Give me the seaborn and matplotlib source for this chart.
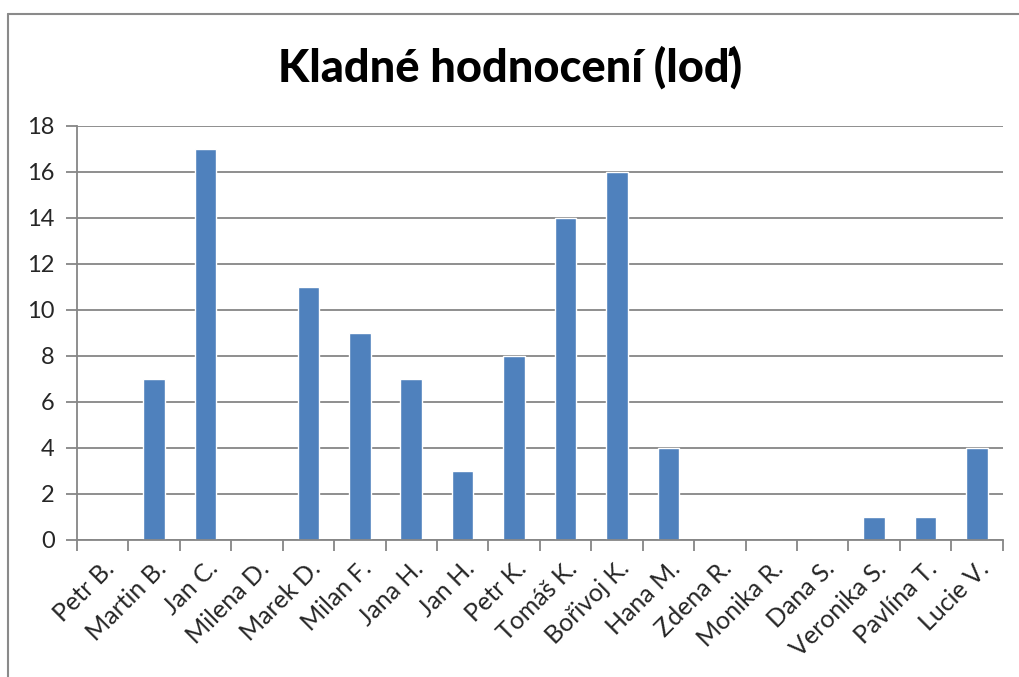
import matplotlib
matplotlib.use('Agg')
import matplotlib.pyplot as plt
import seaborn as sns
import pandas as pd
from matplotlib.lines import Line2D

names = ['Petr B.', 'Martin B.', 'Jan C.', 'Milena D.', 'Marek D.', 'Milan F.',
         'Jana H.', 'Jan H.', 'Petr K.', 'Tomáš K.', 'Bořivoj K.', 'Hana M.',
         'Zdena R.', 'Monika R.', 'Dana S.', 'Veronika S.', 'Pavlína T.', 'Lucie V.']
scores = [0, 7, 17, 0, 11, 9, 7, 3, 8, 14, 16, 4, 0, 0, 0, 1, 1, 4]
yticks = [0, 2, 4, 6, 8, 10, 12, 14, 16, 18]

df = pd.DataFrame({'name': names, 'score': scores})

sns.set_theme(style='white')
plt.rcParams['font.family'] = ['Lato', 'DejaVu Sans']

fig = plt.figure(figsize=(10.2, 6.77), dpi=100)
ax = fig.add_axes([0.0755, 0.2024, 0.9075, 0.6115])

sns.barplot(data=df, x='name', y='score', color='#4F81BD', saturation=1,
            width=0.42, ax=ax)

ax.set_ylim(0, 18)
ax.set_xlim(-0.5, len(names) - 0.5)
ax.set_yticks(yticks)
ax.set_yticklabels([str(v) for v in yticks], fontsize=17)
ax.yaxis.grid(True, color='#868686', linewidth=1.3)
ax.set_axisbelow(True)
ax.set_xlabel('')
ax.set_ylabel('')

# category ticks sit between the bars, like the spreadsheet chart
ax.set_xticks([i - 0.5 for i in range(len(names) + 1)], minor=False)
ax.set_xticklabels([''] * (len(names) + 1))
ax.set_xticks(range(len(names)), minor=True)
ax.set_xticklabels(names, minor=True, rotation=45, ha='right',
                   rotation_mode='anchor', fontsize=18)
ax.tick_params(axis='x', which='major', length=8, width=1.3, color='#868686',
               bottom=True, direction='out')
ax.tick_params(axis='x', which='minor', length=0, pad=12)
ax.tick_params(axis='y', length=8, width=1.3, color='#868686', left=True,
               direction='out', pad=8)

for s in ['top', 'right']:
    ax.spines[s].set_visible(False)
for s in ['left', 'bottom']:
    ax.spines[s].set_color('#868686')
    ax.spines[s].set_linewidth(1.3)

fig.text(0.5, 0.9, 'Kladné hodnocení (loď)', ha='center', va='center',
         fontsize=32.5, fontweight='black', color='black')

# outer chart frame
fig.add_artist(Line2D([0.008, 0.008], [0, 1 - 14 / 677], color='#8a8a8a', lw=1.5))
fig.add_artist(Line2D([0.008, 1], [1 - 14 / 677, 1 - 14 / 677], color='#8a8a8a', lw=1.5))

fig.savefig('out.png', dpi=100)
